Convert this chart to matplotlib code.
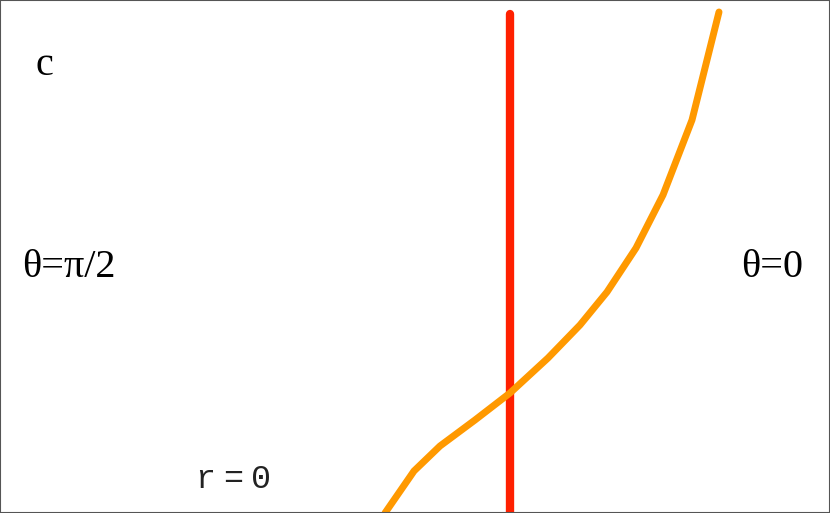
import matplotlib
matplotlib.use("Agg")
import matplotlib.pyplot as plt

curve_x = [385, 414, 440, 475, 510, 548, 580, 607, 636, 663, 692, 719]
curve_y = [0, 42, 67, 93, 120, 155, 188, 221, 265, 318, 393, 501]

# vertical line r = const
line_x = [510, 510]
line_y = [0, 499]

labels = ["c", "θ=π/2", "θ=0"]
r_label = ["r", "=", "0"]
r_label_x = [205, 233, 261]


def make_plot():
    fig = plt.figure(figsize=(8.3, 5.13), dpi=100)
    ax = fig.add_axes([0, 0, 1, 1])
    ax.set_xlim(0, 830)
    ax.set_ylim(0, 513)

    ax.plot(line_x, line_y, color='#ff2000', lw=6, solid_capstyle='round')
    ax.plot(curve_x, curve_y, color='#ff9900', lw=5, solid_capstyle='round',
            solid_joinstyle='miter')

    serif = dict(family='Liberation Serif', color='black')
    ax.text(35, 438, labels[0], fontsize=29, **serif)
    ax.text(22, 236, labels[1], fontsize=29, **serif)
    ax.text(741, 236, labels[2], fontsize=29, **serif)
    # monospace label, spread out like the original
    for ch, x in zip(r_label, r_label_x):
        ax.text(x, 25, ch, fontsize=24, family='Liberation Mono', color='#222222',
                ha='center', va='baseline')

    ax.set_xticks([])
    ax.set_yticks([])
    for s in ax.spines.values():
        s.set_color('#555555')
        s.set_linewidth(1.5)

    fig.savefig('out.png', dpi=100)


if __name__ == "__main__":
    make_plot()
